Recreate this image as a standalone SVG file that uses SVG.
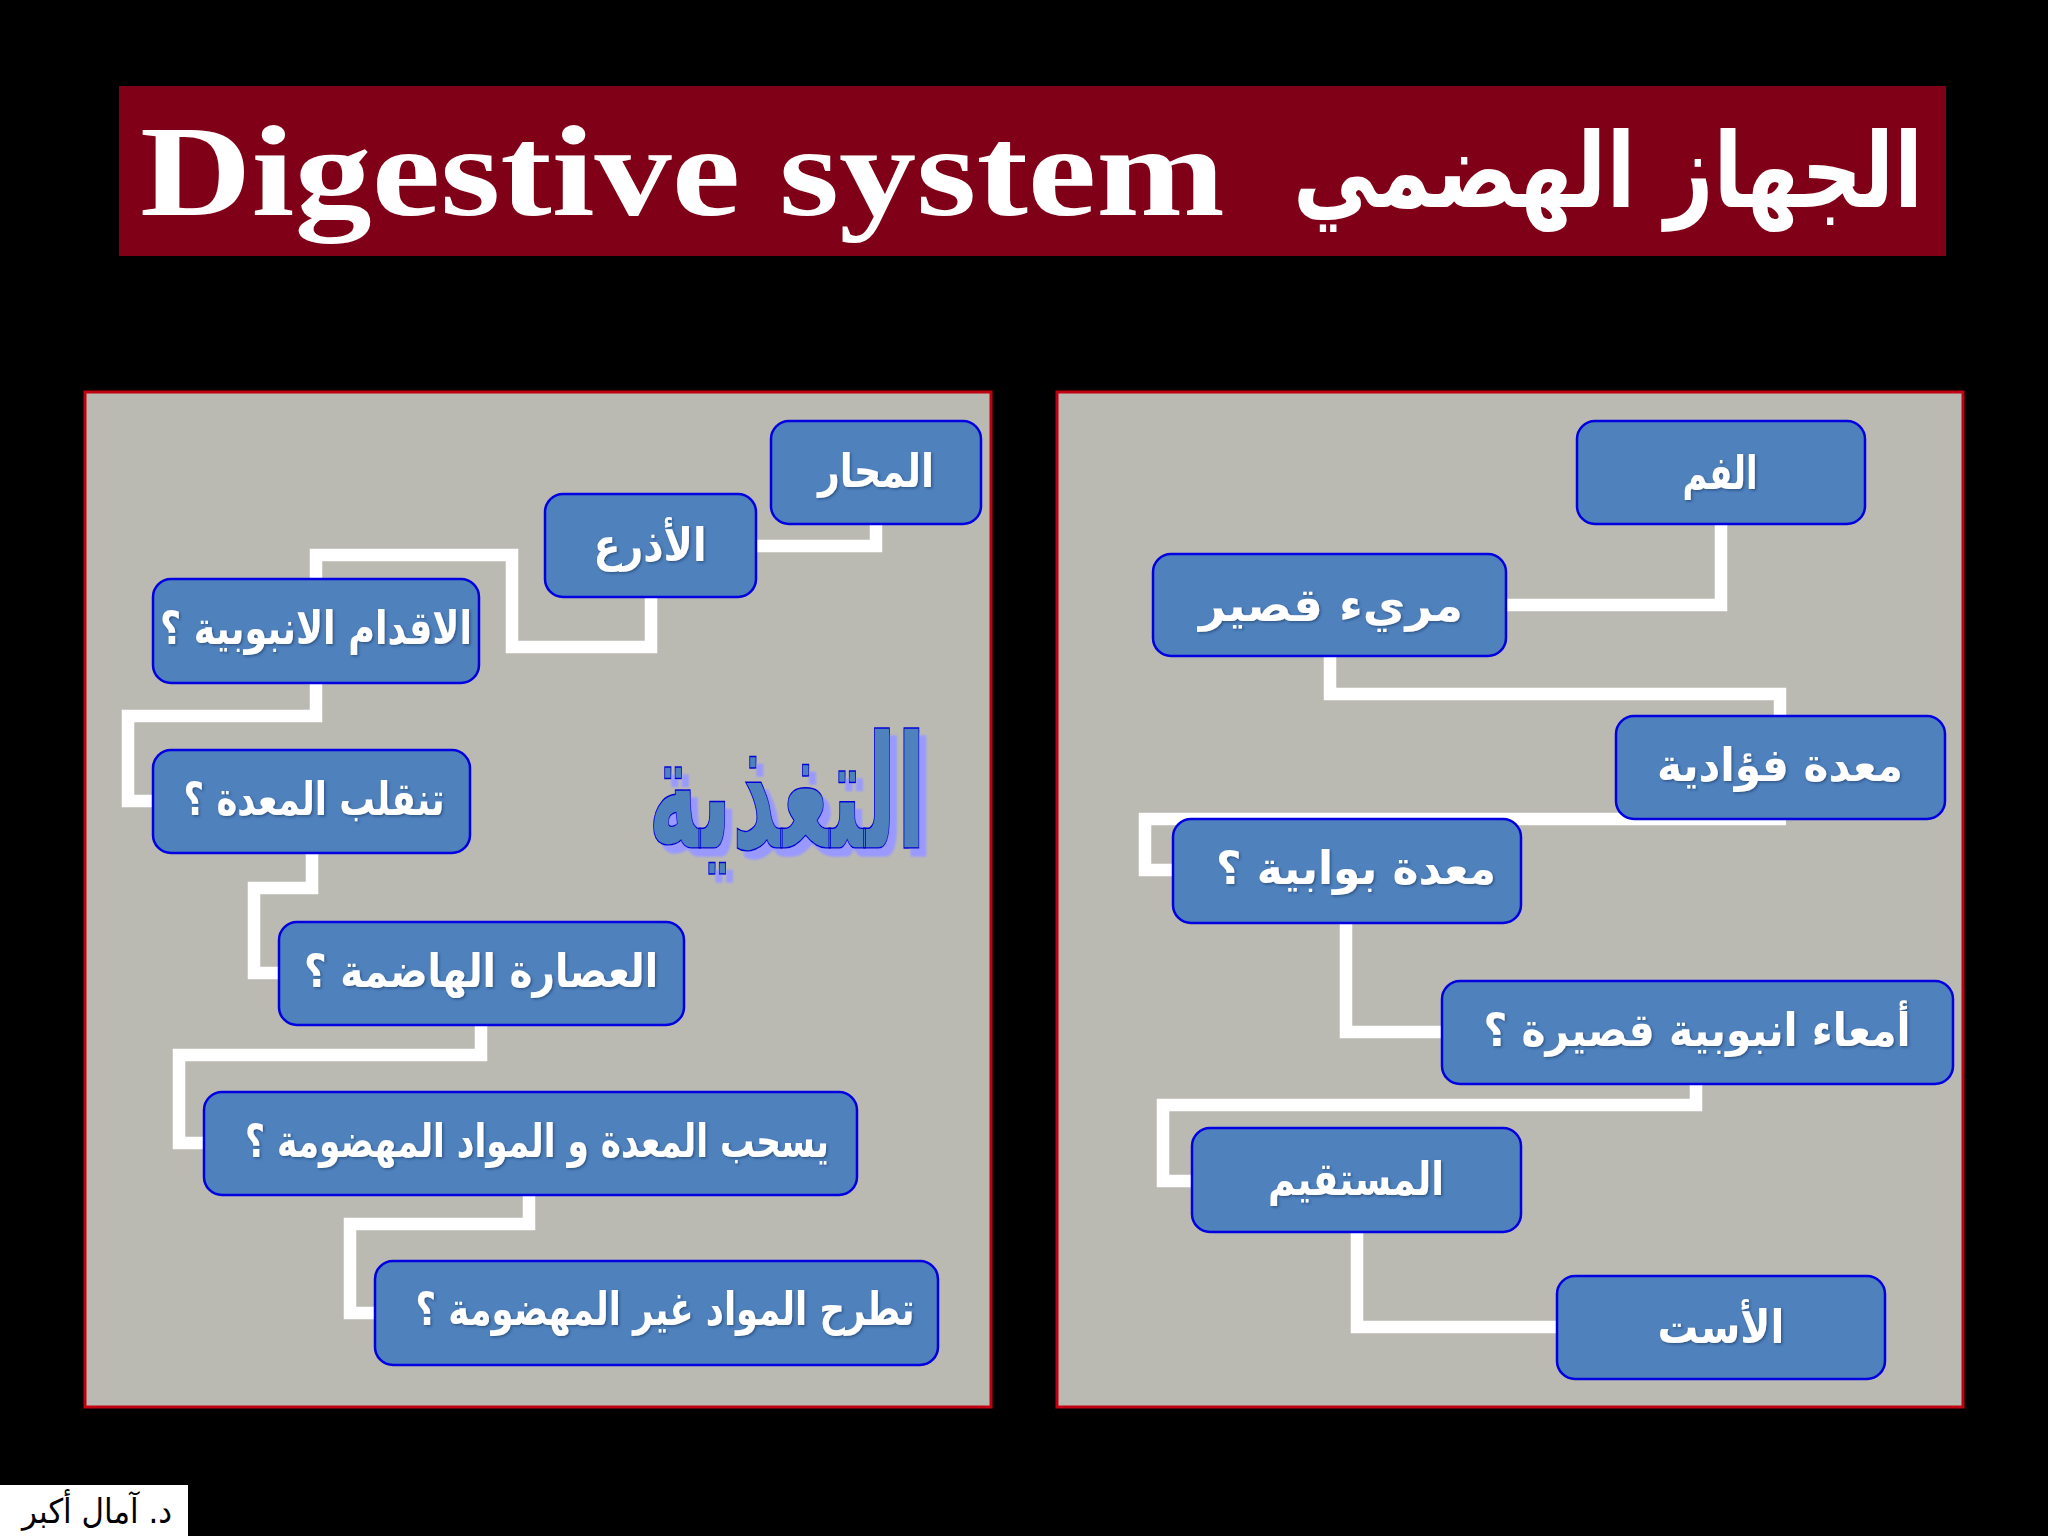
<svg xmlns="http://www.w3.org/2000/svg" width="2048" height="1536" viewBox="0 0 2048 1536">
<defs>
<filter id="soft" x="-10%" y="-30%" width="120%" height="160%"><feDropShadow dx="1.5" dy="1.5" stdDeviation="0.8" flood-color="#1f3a63" flood-opacity="0.6"/></filter>
<filter id="hard" x="-10%" y="-10%" width="125%" height="125%"><feDropShadow dx="7" dy="8" stdDeviation="1" flood-color="#9999ff"/></filter>
</defs>
<style>
.panel{fill:#bbbab2;stroke:#c00010;stroke-width:3}
.box{fill:#4f81bd;stroke:#0000e0;stroke-width:2.5}
.link{fill:none;stroke:#ffffff;stroke-width:12.5;stroke-linejoin:miter}
text{font-family:"DejaVu Sans","Noto Sans",sans-serif;direction:rtl;unicode-bidi:embed}
.lbl{fill:#ffffff;font-weight:700;font-size:46px;text-anchor:middle;filter:url(#soft)}
</style>
<rect width="2048" height="1536" fill="#000000"/>
<g id="title">
<rect x="119" y="86" width="1827" height="170" fill="#800018"/>
<text x="140" y="215" textLength="1085" lengthAdjust="spacingAndGlyphs" style="font-family:'Liberation Serif',serif;font-weight:700;font-size:130px;direction:ltr;fill:#fff">Digestive system</text>
<text x="1923" y="207" textLength="630" lengthAdjust="spacingAndGlyphs" style="font-weight:700;font-size:104px;text-anchor:start;fill:#fff">الجهاز الهضمي</text>
</g>
<rect class="panel" x="85" y="392" width="906" height="1015"/>
<rect class="panel" x="1057" y="392" width="906" height="1015"/>
<g id="connectors">
<path class="link" d="M876,524V546H756"/>
<path class="link" d="M651,597V647H512V555H316V579"/>
<path class="link" d="M316,683V716H128V801H153"/>
<path class="link" d="M312,853V888H254V973H278"/>
<path class="link" d="M481,1025V1055H179V1143H204"/>
<path class="link" d="M529,1195V1224H350V1313H375"/>
<path class="link" d="M1721,524V605H1506"/>
<path class="link" d="M1330,656V694H1780V716"/>
<path class="link" d="M1786,819H1145V870H1173"/>
<path class="link" d="M1346,923V1032H1442"/>
<path class="link" d="M1696,1084V1105H1163V1181H1191"/>
<path class="link" d="M1357,1232V1327H1557"/>
</g>
<g id="n-mahar"><rect class="box" x="771" y="421" width="210" height="103" rx="18"/><text class="lbl" x="876" y="487" textLength="116" lengthAdjust="spacingAndGlyphs">المحار</text></g>
<g id="n-adhra"><rect class="box" x="545" y="494" width="211" height="103" rx="18"/><text class="lbl" x="650" y="561" textLength="113" lengthAdjust="spacingAndGlyphs">الأذرع</text></g>
<g id="n-aqdam"><rect class="box" x="153" y="579" width="326" height="104" rx="18"/><text class="lbl" x="316" y="644" textLength="312" lengthAdjust="spacingAndGlyphs">الاقدام الانبوبية ؟</text></g>
<g id="n-taqallub"><rect class="box" x="153" y="750" width="317" height="103" rx="18"/><text class="lbl" x="314" y="815" textLength="261" lengthAdjust="spacingAndGlyphs">تنقلب المعدة ؟</text></g>
<g id="n-usara"><rect class="box" x="279" y="922" width="405" height="103" rx="18"/><text class="lbl" x="481" y="987" textLength="354" lengthAdjust="spacingAndGlyphs">العصارة الهاضمة ؟</text></g>
<g id="n-yashab"><rect class="box" x="204" y="1092" width="653" height="103" rx="18"/><text class="lbl" x="537" y="1157" textLength="584" lengthAdjust="spacingAndGlyphs">يسحب المعدة و المواد المهضومة ؟</text></g>
<g id="n-tatrah"><rect class="box" x="375" y="1261" width="563" height="104" rx="18"/><text class="lbl" x="665" y="1325" textLength="499" lengthAdjust="spacingAndGlyphs">تطرح المواد غير المهضومة ؟</text></g>
<g id="n-fam"><rect class="box" x="1577" y="421" width="288" height="103" rx="18"/><text class="lbl" x="1720" y="489" textLength="75" lengthAdjust="spacingAndGlyphs">الفم</text></g>
<g id="n-mari"><rect class="box" x="1153" y="554" width="353" height="102" rx="18"/><text class="lbl" x="1331" y="621" textLength="264" lengthAdjust="spacingAndGlyphs">مريء قصير</text></g>
<g id="n-fuad"><rect class="box" x="1616" y="716" width="329" height="103" rx="18"/><text class="lbl" x="1780" y="781" textLength="246" lengthAdjust="spacingAndGlyphs">معدة فؤادية</text></g>
<g id="n-bawab"><rect class="box" x="1173" y="819" width="348" height="104" rx="18"/><text class="lbl" x="1356" y="884" textLength="280" lengthAdjust="spacingAndGlyphs">معدة بوابية ؟</text></g>
<g id="n-amaa"><rect class="box" x="1442" y="981" width="511" height="103" rx="18"/><text class="lbl" x="1697" y="1046" textLength="427" lengthAdjust="spacingAndGlyphs">أمعاء انبوبية قصيرة ؟</text></g>
<g id="n-mustaqim"><rect class="box" x="1192" y="1128" width="329" height="104" rx="18"/><text class="lbl" x="1356" y="1195" textLength="176" lengthAdjust="spacingAndGlyphs">المستقيم</text></g>
<g id="n-ast"><rect class="box" x="1557" y="1276" width="328" height="103" rx="18"/><text class="lbl" x="1721" y="1343" textLength="127" lengthAdjust="spacingAndGlyphs">الأست</text></g>
<g id="heading"><text x="787" y="848" textLength="278" lengthAdjust="spacingAndGlyphs" style="font-weight:700;font-size:158px;text-anchor:middle;fill:#4f81bd;stroke:#0000d8;stroke-width:1.5;filter:url(#hard)">التغذية</text></g>
<g id="credit"><rect x="0" y="1485" width="188" height="51" fill="#ffffff"/><text x="97" y="1523" textLength="150" lengthAdjust="spacingAndGlyphs" style="font-size:34px;text-anchor:middle;fill:#000">د. آمال أكبر</text></g>
</svg>
